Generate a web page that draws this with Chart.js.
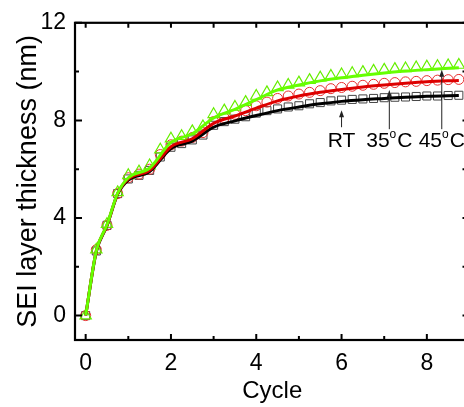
<!DOCTYPE html>
<html><head><meta charset="utf-8">
<script src="https://cdn.jsdelivr.net/npm/chart.js@4.4.1/dist/chart.umd.min.js"></script>
<style>
html,body{margin:0;padding:0;overflow:hidden;background:#fff;}
#wrap{position:relative;width:480px;height:407px;}
</style></head><body>
<div id="wrap"><canvas id="c" width="480" height="407"></canvas></div>
<script>
// ---- data ----
const cycles = [0,0.25,0.5,0.75,1,1.25,1.5,1.75,2,2.25,2.5,2.75,3,3.25,3.5,3.75,4,4.25,4.5,4.75,5,5.25,5.5,5.75,6,6.25,6.5,6.75,7,7.25,7.5,7.75,8,8.25,8.5,8.75];
const rtMarkers  = [0,2.65,3.7,5.0,5.6,5.75,5.95,6.5,6.9,7.05,7.2,7.4,7.8,7.95,8.05,8.15,8.3,8.4,8.47,8.55,8.6,8.68,8.73,8.8,8.83,8.86,8.88,8.9,8.93,8.95,8.96,8.98,9.0,9.0,9.02,9.03];
const t35Markers = [0,2.7,3.7,5.0,5.65,5.8,6.0,6.6,7.0,7.15,7.3,7.5,7.95,8.1,8.25,8.4,8.6,8.75,8.9,9.0,9.08,9.15,9.22,9.3,9.35,9.4,9.44,9.48,9.52,9.55,9.58,9.6,9.63,9.65,9.67,9.68];
const t45Markers = [0,2.7,3.75,5.05,5.75,5.9,6.15,6.8,7.25,7.35,7.55,7.75,8.25,8.4,8.55,8.75,9.0,9.15,9.35,9.45,9.55,9.65,9.75,9.82,9.88,9.93,9.98,10.03,10.07,10.1,10.13,10.17,10.2,10.22,10.25,10.27];
const lineCycles = [0,0.25,0.5,0.75,1,1.5,2,2.5,3,3.5,4,4.5,5,5.5,6,6.5,7,7.5,8,8.75];
const rtLine  = [0,2.62,3.68,4.98,5.55,5.9,6.85,7.15,7.72,7.98,8.2,8.4,8.55,8.68,8.78,8.85,8.9,8.95,8.99,9.02];
const t35Line = [0,2.66,3.7,5.0,5.6,5.95,6.92,7.25,7.88,8.18,8.5,8.8,9.0,9.15,9.27,9.37,9.45,9.52,9.58,9.64];
const t45Line = [0,2.66,3.72,5.02,5.65,6.05,7.1,7.45,8.1,8.45,8.85,9.25,9.45,9.62,9.75,9.85,9.94,10.02,10.08,10.16];
const seriesNames = ['RT','35°C','45°C'];
const xTickValues = [0,2,4,6,8];
const yTickValues = [0,4,8,12];

// ---- annotations (label, cycle position, arrow tail & tip in nm) ----
const notes = [
  {main:'RT', sup:'', post:'', x:6.0, tail:7.72, tip:8.42},
  {main:'35', sup:'o', post:'C', x:7.12, tail:7.64, tip:9.25},
  {main:'45', sup:'o', post:'C', x:8.35, tail:7.64, tip:10.08}
];
const noteBaseline = 6.92;

const FONT = "'Liberation Sans', Arial, sans-serif";
const pts = (xs, ys) => xs.map((x,i)=>({x:x, y:ys[i]}));

const framePlugin = {
  id:'frame',
  afterDatasetsDraw(chart){
    const {ctx, chartArea:a, scales:{x, y}} = chart;
    ctx.save();
    ctx.strokeStyle = '#000';
    ctx.lineWidth = 2.2;
    ctx.strokeRect(a.left, a.top, a.right - a.left, a.bottom - a.top);
    ctx.lineWidth = 2;
    ctx.beginPath();
    for (let v = 0; v <= 9; v++) {
      const px = x.getPixelForValue(v);
      const major = v % 2 === 0;
      ctx.moveTo(px, a.bottom); ctx.lineTo(px, a.bottom - (major ? 6 : 4));
      ctx.moveTo(px, a.top); ctx.lineTo(px, a.top + 5);
    }
    for (let v = 0; v <= 12; v += 2) {
      const py = y.getPixelForValue(v);
      ctx.moveTo(a.left, py); ctx.lineTo(a.left + (v % 4 === 0 ? 7 : 4), py);
      ctx.moveTo(a.right, py); ctx.lineTo(a.right - 7, py);
    }
    ctx.stroke();
    // annotations
    ctx.strokeStyle = '#222'; ctx.fillStyle = '#222'; ctx.lineWidth = 1;
    notes.forEach(n => {
      const px = x.getPixelForValue(n.x);
      const pTail = y.getPixelForValue(n.tail), pTip = y.getPixelForValue(n.tip);
      ctx.beginPath(); ctx.moveTo(px, pTail); ctx.lineTo(px, pTip + 5); ctx.stroke();
      ctx.beginPath(); ctx.moveTo(px, pTip); ctx.lineTo(px - 2.5, pTip + 7); ctx.lineTo(px + 2.5, pTip + 7); ctx.closePath(); ctx.fill();
      const big = "21px " + FONT, small = "12px " + FONT;
      ctx.font = big; const w1 = ctx.measureText(n.main).width, w3 = ctx.measureText(n.post).width;
      ctx.font = small; const w2 = n.sup ? ctx.measureText(n.sup).width + 1 : 0;
      const total = w1 + w2 + w3;
      let cx = px - total/2;
      const by = y.getPixelForValue(noteBaseline);
      ctx.fillStyle = '#000'; ctx.textBaseline = 'alphabetic'; ctx.textAlign = 'left';
      ctx.font = big; ctx.fillText(n.main, cx, by); cx += w1;
      if (n.sup) { ctx.font = small; ctx.fillText(n.sup, cx, by - 9); cx += w2; }
      ctx.font = big; ctx.fillText(n.post, cx, by);
      ctx.fillStyle = '#222';
    });
    ctx.restore();
  }
};

new Chart(document.getElementById('c'), {
  type:'scatter',
  data:{datasets:[
    {label:seriesNames[2]+' fit', data:pts(lineCycles,t45Line), showLine:true, borderColor:'#66ff00', borderWidth:3, pointRadius:0, cubicInterpolationMode:'monotone', order:0},
    {label:seriesNames[1]+' fit', data:pts(lineCycles,t35Line), showLine:true, borderColor:'#dd0000', borderWidth:3, pointRadius:0, cubicInterpolationMode:'monotone', order:1},
    {label:seriesNames[0]+' fit', data:pts(lineCycles,rtLine), showLine:true, borderColor:'#000000', borderWidth:3, pointRadius:0, cubicInterpolationMode:'monotone', order:2},
    {label:seriesNames[2], data:pts(cycles,t45Markers), showLine:false, pointStyle:'triangle', pointRadius:6.5, borderColor:'#66ee00', backgroundColor:'rgba(0,0,0,0)', pointBorderWidth:1.2, order:3},
    {label:seriesNames[1], data:pts(cycles,t35Markers), showLine:false, pointStyle:'circle', pointRadius:5, borderColor:'#e83030', backgroundColor:'rgba(0,0,0,0)', pointBorderWidth:1, order:4},
    {label:seriesNames[0], data:pts(cycles,rtMarkers), showLine:false, pointStyle:'rect', pointRadius:5.7, borderColor:'#444444', backgroundColor:'rgba(0,0,0,0)', pointBorderWidth:1, order:5}
  ]},
  options:{
    responsive:false, animation:false, devicePixelRatio:1,
    layout:{padding:{top:19, right:10.5, left:0, bottom:0}},
    plugins:{legend:{display:false}, tooltip:{enabled:false}},
    scales:{
      x:{type:'linear', min:-0.25, max:9,
        afterBuildTicks:s=>{s.ticks = xTickValues.map(v=>({value:v}));},
        afterFit:s=>{s.height = 67;},
        grid:{display:false, drawTicks:false}, border:{display:false},
        ticks:{color:'#000', font:{family:FONT, size:23}, padding:10, maxRotation:0},
        title:{display:true, text:'Cycle', color:'#000', font:{family:FONT, size:24}, padding:{top:0,bottom:1}}
      },
      y:{type:'linear', min:-1, max:12,
        afterBuildTicks:s=>{s.ticks = yTickValues.map(v=>({value:v}));},
        afterFit:s=>{s.width = 75;},
        grid:{display:false, drawTicks:false}, border:{display:false},
        ticks:{color:'#000', font:{family:FONT, size:23}, padding:9},
        title:{display:true, text:'SEI layer thickness (nm)', color:'#000', font:{family:FONT, size:27}, padding:{top:12,bottom:0}}
      }
    }
  },
  plugins:[framePlugin]
});
</script>
</body></html>
